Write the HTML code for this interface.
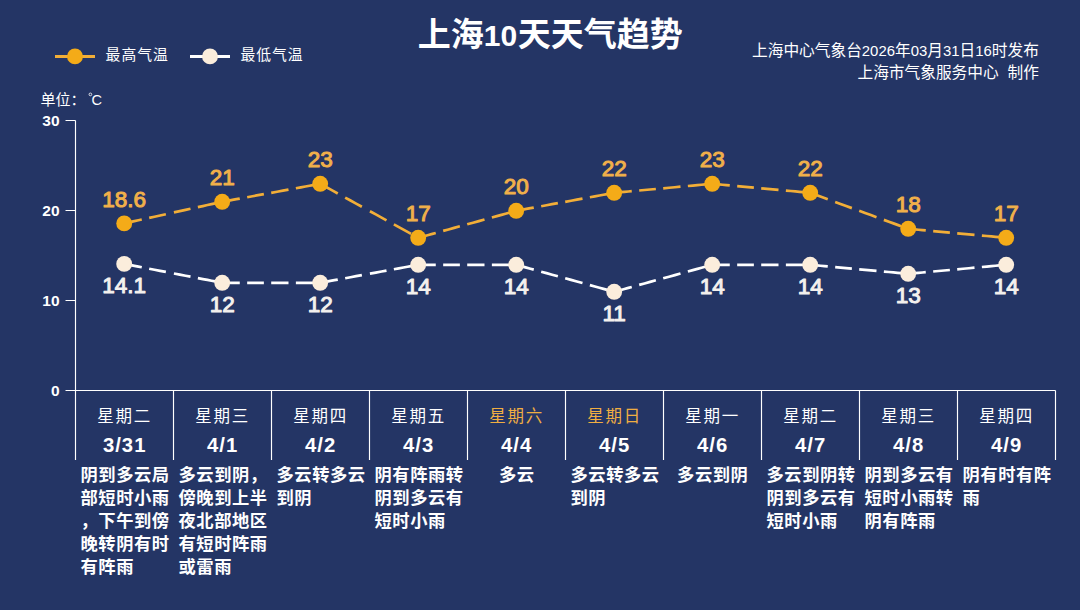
<!DOCTYPE html>
<html lang="zh-CN">
<head>
<meta charset="utf-8">
<title>上海10天天气趋势</title>
<style>
html,body{margin:0;padding:0;background:#243565;}
body{width:1080px;height:610px;overflow:hidden;position:relative;font-family:"Liberation Sans",sans-serif;}
#chart{position:absolute;left:0;top:0;width:1080px;height:610px;display:block;}
#chart text{font-family:"Liberation Sans","Noto Sans CJK SC",sans-serif;}
#labels{position:absolute;left:0;top:0;width:1080px;height:610px;overflow:hidden;}
#labels span{position:absolute;white-space:nowrap;overflow:hidden;line-height:1;color:transparent;font-family:"Liberation Sans",sans-serif;}
</style>
</head>
<body>
<svg id="chart" width="1080" height="610" viewBox="0 0 1080 610">
<rect width="1080" height="610" fill="#243565"/>
<text x="417.8" y="46" font-size="33" font-weight="bold" fill="#fff">上海</text>
<text x="517.8" y="46" font-size="33" font-weight="bold" fill="#fff">天天气趋势</text>
<text x="483.8" y="46" font-size="30" font-weight="bold" fill="#fff">10</text>
<path d="M55 56.4 H95" stroke="#F2AE38" stroke-width="3" fill="none"/>
<circle cx="75" cy="56.4" r="7.95" fill="#F4AB18"/>
<path d="M190 56.4 H230" stroke="#FFFFFF" stroke-width="3" fill="none"/>
<circle cx="210" cy="56.4" r="7.95" fill="#FBEDDC"/>
<text x="105.6" y="60.1" font-size="14.8" letter-spacing="1" fill="#fff">最高气温</text>
<text x="240.4" y="60.1" font-size="14.8" letter-spacing="1" fill="#fff">最低气温</text>
<text x="752.03" y="56.4" font-size="15.7" fill="#fff">上海中心气象台<tspan font-size="14.9">2026</tspan>年<tspan font-size="14.9">03</tspan>月<tspan font-size="14.9">31</tspan>日<tspan font-size="14.9">16</tspan>时发布</text>
<text x="857.51" y="77.7" font-size="15.7" fill="#fff">上海市气象服务中心</text>
<text x="1007.6" y="77.7" font-size="15.7" fill="#fff">制作</text>
<text x="40.5" y="105.2" font-size="15" fill="#fff">单位：</text>
<circle cx="90.4" cy="94.4" r="1.35" fill="none" stroke="#fff" stroke-width="0.8"/>
<text x="91.6" y="105.2" font-size="14.6" fill="#fff">C</text>
<path d="M75.5 120.5 V460 M65.5 120.5 H75.5 M65.5 210.5 H75.5 M65.5 300.5 H75.5 M65.5 390.5 H75.5 M75.5 390.5 H1055.5 M173.5 390.5 V460 M271.5 390.5 V460 M369.5 390.5 V460 M467.5 390.5 V460 M565.5 390.5 V460 M663.5 390.5 V460 M761.5 390.5 V460 M859.5 390.5 V460 M957.5 390.5 V460 M1055.5 390.5 V460" stroke="#fff" stroke-width="1.15" fill="none"/>
<text x="42.36" y="126" font-size="15.5" font-weight="bold" fill="#fff">30</text>
<text x="42.36" y="216" font-size="15.5" font-weight="bold" fill="#fff">20</text>
<text x="42.36" y="306" font-size="15.5" font-weight="bold" fill="#fff">10</text>
<text x="50.98" y="396" font-size="15.5" font-weight="bold" fill="#fff">0</text>
<path d="M124.2 263.9 L124.66 263.99 L125.98 264.24 L128.09 264.65 L130.92 265.2 L134.39 265.87 L138.42 266.64 L141.77 267.29 M149.17 268.72 L154.52 269.75 L160.11 270.83 L165.87 271.94 M173.93 273.49 L179.8 274.62 L185.57 275.74 L190.5 276.69 M197.87 278.11 L202.86 279.07 L207.44 279.95 L211.53 280.74 L215.08 281.43 M222.2 282.8 L222.66 282.8 L223.98 282.8 L226.09 282.8 L228.92 282.8 L232.39 282.8 L236.42 282.8 L239.77 282.8 M247.17 282.8 L252.52 282.8 L258.11 282.8 L263.87 282.8 M271.2 282.8 L277.07 282.8 L282.86 282.8 L288.5 282.8 M295.87 282.8 L300.86 282.8 L305.44 282.8 L309.53 282.8 L313.08 282.8 M320.2 282.8 L320.66 282.72 L321.98 282.47 L324.09 282.08 L326.92 281.57 L330.39 280.93 L334.42 280.19 L337.77 279.57 M345.17 278.21 L350.52 277.23 L356.11 276.2 L361.87 275.15 M369.93 273.67 L375.8 272.59 L381.57 271.53 L386.5 270.62 M393.87 269.27 L398.86 268.35 L403.44 267.51 L407.53 266.76 L411.08 266.11 M418.2 264.8 L418.66 264.8 L419.98 264.8 L422.09 264.8 L424.92 264.8 L428.39 264.8 L432.42 264.8 L435.77 264.8 M443.17 264.8 L448.52 264.8 L454.11 264.8 L459.87 264.8 M467.2 264.8 L473.07 264.8 L478.86 264.8 L484.5 264.8 M491.87 264.8 L496.86 264.8 L501.44 264.8 L505.53 264.8 L509.08 264.8 M516.2 264.8 L516.66 264.93 L517.98 265.29 L520.09 265.87 L522.92 266.65 L526.39 267.61 L530.42 268.72 L533.77 269.64 M541.17 271.68 L546.52 273.15 L552.11 274.69 L557.87 276.28 M565.2 278.3 L571.07 279.92 L576.86 281.51 L582.5 283.07 M589.87 285.1 L594.86 286.47 L599.44 287.73 L603.53 288.86 L607.08 289.84 M614.2 291.8 L614.66 291.67 L615.98 291.31 L618.09 290.73 L620.92 289.95 L624.39 288.99 L628.42 287.88 L631.77 286.96 M639.17 284.92 L644.52 283.45 L650.11 281.91 L655.87 280.32 M663.2 278.3 L669.07 276.68 L674.86 275.09 L680.5 273.53 M687.87 271.5 L692.86 270.13 L697.44 268.87 L701.53 267.74 L705.08 266.76 M712.2 264.8 L712.66 264.8 L713.98 264.8 L716.09 264.8 L718.92 264.8 L722.39 264.8 L726.42 264.8 L729.77 264.8 M737.17 264.8 L742.52 264.8 L748.11 264.8 L753.87 264.8 M761.2 264.8 L767.07 264.8 L772.86 264.8 L778.5 264.8 M785.87 264.8 L790.86 264.8 L795.44 264.8 L799.53 264.8 L803.08 264.8 M810.2 264.8 L810.66 264.84 L811.98 264.96 L814.09 265.16 L816.92 265.42 L820.39 265.74 L824.42 266.11 L827.77 266.41 M835.17 267.09 L840.52 267.58 L846.11 268.1 L851.87 268.63 M859.2 269.3 L865.07 269.84 L870.86 270.37 L876.5 270.89 M883.87 271.57 L888.86 272.02 L893.44 272.44 L897.53 272.82 L901.08 273.15 M908.2 273.8 L908.66 273.76 L909.98 273.64 L912.09 273.44 L914.92 273.18 L918.39 272.86 L922.42 272.49 L925.77 272.19 M933.17 271.51 L938.52 271.02 L944.11 270.5 L949.87 269.97 M957.2 269.3 L963.07 268.76 L968.86 268.23 L974.5 267.71 M981.87 267.03 L986.86 266.58 L991.44 266.16 L995.53 265.78 L999.08 265.45" stroke="#FFFFFF" stroke-width="2.7" fill="none"/>
<g fill="#FBEDDC"><circle cx="124.2" cy="263.9" r="7.95"/><circle cx="222.2" cy="282.8" r="7.95"/><circle cx="320.2" cy="282.8" r="7.95"/><circle cx="418.2" cy="264.8" r="7.95"/><circle cx="516.2" cy="264.8" r="7.95"/><circle cx="614.2" cy="291.8" r="7.95"/><circle cx="712.2" cy="264.8" r="7.95"/><circle cx="810.2" cy="264.8" r="7.95"/><circle cx="908.2" cy="273.8" r="7.95"/><circle cx="1006.2" cy="264.8" r="7.95"/></g>
<g fill="#F4F1EE" stroke="#F4F1EE" stroke-width="1" stroke-linejoin="round" font-size="22.5" text-anchor="middle">
<text x="124.2" y="292.8">14.1</text>
<text x="222.2" y="311.7">12</text>
<text x="320.2" y="311.7">12</text>
<text x="418.2" y="293.7">14</text>
<text x="516.2" y="293.7">14</text>
<text x="614.2" y="320.7">11</text>
<text x="712.2" y="293.7">14</text>
<text x="810.2" y="293.7">14</text>
<text x="908.2" y="302.7">13</text>
<text x="1006.2" y="293.7">14</text>
</g>
<path d="M124.2 223.4 L124.66 223.3 L125.98 223.01 L128.09 222.54 L130.92 221.92 L134.39 221.15 L138.42 220.26 L141.77 219.53 M149.17 217.9 L154.52 216.72 L160.11 215.48 L165.87 214.21 M173.93 212.44 L179.8 211.15 L185.57 209.87 L190.5 208.79 M197.87 207.16 L202.86 206.06 L207.44 205.05 L211.53 204.15 L215.08 203.37 M222.2 201.8 L222.66 201.72 L223.98 201.47 L226.09 201.08 L228.92 200.57 L232.39 199.93 L236.42 199.19 L239.77 198.57 M247.17 197.21 L252.52 196.23 L258.11 195.2 L263.87 194.15 M271.2 192.8 L277.07 191.72 L282.86 190.66 L288.5 189.62 M295.87 188.27 L300.86 187.35 L305.44 186.51 L309.53 185.76 L313.08 185.11 M320.2 183.8 L320.66 184.05 L321.98 184.78 L324.09 185.95 L326.92 187.5 L330.39 189.42 L334.42 191.64 L337.77 193.48 M345.17 197.56 L350.52 200.51 L356.11 203.59 L361.87 206.76 M369.93 211.2 L375.8 214.44 L381.57 217.62 L386.5 220.33 M393.87 224.4 L398.86 227.14 L403.44 229.66 L407.53 231.92 L411.08 233.87 M418.2 237.8 L418.66 237.67 L419.98 237.31 L422.09 236.73 L424.92 235.95 L428.39 234.99 L432.42 233.88 L435.77 232.96 M443.17 230.92 L448.52 229.45 L454.11 227.91 L459.87 226.32 M467.2 224.3 L473.07 222.68 L478.86 221.09 L484.5 219.53 M491.87 217.5 L496.86 216.13 L501.44 214.87 L505.53 213.74 L509.08 212.76 M516.2 210.8 L516.66 210.72 L517.98 210.47 L520.09 210.08 L522.92 209.57 L526.39 208.93 L530.42 208.19 L533.77 207.57 M541.17 206.21 L546.52 205.23 L552.11 204.2 L557.87 203.15 M565.2 201.8 L571.07 200.72 L576.86 199.66 L582.5 198.62 M589.87 197.27 L594.86 196.35 L599.44 195.51 L603.53 194.76 L607.08 194.11 M614.2 192.8 L614.66 192.76 L615.98 192.64 L618.09 192.44 L620.92 192.18 L624.39 191.86 L628.42 191.49 L631.77 191.19 M639.17 190.51 L644.52 190.02 L650.11 189.5 L655.87 188.97 M663.2 188.3 L669.07 187.76 L674.86 187.23 L680.5 186.71 M687.87 186.03 L692.86 185.58 L697.44 185.16 L701.53 184.78 L705.08 184.45 M712.2 183.8 L712.66 183.84 L713.98 183.96 L716.09 184.16 L718.92 184.42 L722.39 184.74 L726.42 185.11 L729.77 185.41 M737.17 186.09 L742.52 186.58 L748.11 187.1 L753.87 187.63 M761.2 188.3 L767.07 188.84 L772.86 189.37 L778.5 189.89 M785.87 190.57 L790.86 191.02 L795.44 191.44 L799.53 191.82 L803.08 192.15 M810.2 192.8 L810.66 192.97 L811.98 193.45 L814.09 194.23 L816.92 195.27 L820.39 196.54 L824.42 198.03 L827.77 199.26 M835.17 201.97 L840.52 203.94 L846.11 205.99 L851.87 208.11 M859.2 210.8 L865.07 212.96 L870.86 215.08 L876.5 217.16 M883.87 219.86 L888.86 221.69 L893.44 223.38 L897.53 224.88 L901.08 226.18 M908.2 228.8 L908.66 228.84 L909.98 228.96 L912.09 229.16 L914.92 229.42 L918.39 229.74 L922.42 230.11 L925.77 230.41 M933.17 231.09 L938.52 231.58 L944.11 232.1 L949.87 232.63 M957.2 233.3 L963.07 233.84 L968.86 234.37 L974.5 234.89 M981.87 235.57 L986.86 236.02 L991.44 236.44 L995.53 236.82 L999.08 237.15" stroke="#F2AE38" stroke-width="2.7" fill="none"/>
<g fill="#F4AB18"><circle cx="124.2" cy="223.4" r="7.95"/><circle cx="222.2" cy="201.8" r="7.95"/><circle cx="320.2" cy="183.8" r="7.95"/><circle cx="418.2" cy="237.8" r="7.95"/><circle cx="516.2" cy="210.8" r="7.95"/><circle cx="614.2" cy="192.8" r="7.95"/><circle cx="712.2" cy="183.8" r="7.95"/><circle cx="810.2" cy="192.8" r="7.95"/><circle cx="908.2" cy="228.8" r="7.95"/><circle cx="1006.2" cy="237.8" r="7.95"/></g>
<g fill="#F1B04A" stroke="#F1B04A" stroke-width="1" stroke-linejoin="round" font-size="22.5" text-anchor="middle">
<text x="124.2" y="206.9">18.6</text>
<text x="222.2" y="185.3">21</text>
<text x="320.2" y="167.3">23</text>
<text x="418.2" y="221.3">17</text>
<text x="516.2" y="194.3">20</text>
<text x="614.2" y="176.3">22</text>
<text x="712.2" y="167.3">23</text>
<text x="810.2" y="176.3">22</text>
<text x="908.2" y="212.3">18</text>
<text x="1006.2" y="221.3">17</text>
</g>
<g font-size="16.5" letter-spacing="1.7" fill="#fff">
<text x="97.25" y="421.6">星期二</text>
<text x="195.25" y="421.6">星期三</text>
<text x="293.25" y="421.6">星期四</text>
<text x="391.25" y="421.6">星期五</text>
<text x="489.25" y="421.6" fill="#F0AE42">星期六</text>
<text x="587.25" y="421.6" fill="#F0AE42">星期日</text>
<text x="685.25" y="421.6">星期一</text>
<text x="783.25" y="421.6">星期二</text>
<text x="881.25" y="421.6">星期三</text>
<text x="979.25" y="421.6">星期四</text>
</g>
<g font-size="20.3" font-weight="bold" fill="#fff" text-anchor="middle" letter-spacing="1">
<text x="124.7" y="452.2">3/31</text>
<text x="222.7" y="452.2">4/1</text>
<text x="320.7" y="452.2">4/2</text>
<text x="418.7" y="452.2">4/3</text>
<text x="516.7" y="452.2">4/4</text>
<text x="614.7" y="452.2">4/5</text>
<text x="712.7" y="452.2">4/6</text>
<text x="810.7" y="452.2">4/7</text>
<text x="908.7" y="452.2">4/8</text>
<text x="1006.7" y="452.2">4/9</text>
</g>
<g font-size="17.3" font-weight="bold" fill="#fff" letter-spacing="0.55">
<text><tspan x="80.5" y="480.8">阴到多云局</tspan><tspan x="80.5" y="503.8">部短时小雨</tspan><tspan x="80.5" y="526.8">，下午到傍</tspan><tspan x="80.5" y="549.8">晚转阴有时</tspan><tspan x="80.5" y="572.8">有阵雨</tspan></text>
<text><tspan x="178.5" y="480.8">多云到阴，</tspan><tspan x="178.5" y="503.8">傍晚到上半</tspan><tspan x="178.5" y="526.8">夜北部地区</tspan><tspan x="178.5" y="549.8">有短时阵雨</tspan><tspan x="178.5" y="572.8">或雷雨</tspan></text>
<text><tspan x="276.5" y="480.8">多云转多云</tspan><tspan x="276.5" y="503.8">到阴</tspan></text>
<text><tspan x="374.5" y="480.8">阴有阵雨转</tspan><tspan x="374.5" y="503.8">阴到多云有</tspan><tspan x="374.5" y="526.8">短时小雨</tspan></text>
<text x="498.93" y="480.8">多云</text>
<text><tspan x="570.5" y="480.8">多云转多云</tspan><tspan x="570.5" y="503.8">到阴</tspan></text>
<text x="677.08" y="480.8">多云到阴</text>
<text><tspan x="766.5" y="480.8">多云到阴转</tspan><tspan x="766.5" y="503.8">阴到多云有</tspan><tspan x="766.5" y="526.8">短时小雨</tspan></text>
<text><tspan x="864.5" y="480.8">阴到多云有</tspan><tspan x="864.5" y="503.8">短时小雨转</tspan><tspan x="864.5" y="526.8">阴有阵雨</tspan></text>
<text><tspan x="962.5" y="480.8">阴有时有阵</tspan><tspan x="962.5" y="503.8">雨</tspan></text>
</g>
</svg>
<div id="labels"><span style="left:417.8px;top:16.96px;font-size:33px;width:68px">上海</span><span style="left:517.8px;top:16.96px;font-size:33px;width:167px">天天气趋势</span><span style="left:483.8px;top:19px;font-size:30px;width:34px">10</span><span style="left:105.6px;top:47.08px;font-size:14.8px;width:64.2px">最高气温</span><span style="left:240.4px;top:47.08px;font-size:14.8px;width:64.2px">最低气温</span><span style="left:752.03px;top:42.58px;font-size:15.7px;width:288.97px">上海中心气象台2026年03月31日16时发布</span><span style="left:857.51px;top:63.88px;font-size:15.7px;width:183.49px">上海市气象服务中心 制作</span><span style="left:40.5px;top:92px;font-size:15px;width:47px">单位：</span><span style="left:88px;top:92px;font-size:14px;width:16px">℃</span><span style="left:42.36px;top:112.36px;font-size:15.5px;width:19.24px">30</span><span style="left:42.36px;top:202.36px;font-size:15.5px;width:19.24px">20</span><span style="left:42.36px;top:292.36px;font-size:15.5px;width:19.24px">10</span><span style="left:50.98px;top:382.36px;font-size:15.5px;width:10.62px">0</span><span style="left:101.51px;top:273.44px;font-size:22px;width:47.39px">14.1</span><span style="left:209.23px;top:292.34px;font-size:22px;width:27.94px">12</span><span style="left:307.23px;top:292.34px;font-size:22px;width:27.94px">12</span><span style="left:405.23px;top:274.34px;font-size:22px;width:27.94px">14</span><span style="left:503.23px;top:274.34px;font-size:22px;width:27.94px">14</span><span style="left:601.23px;top:301.34px;font-size:22px;width:27.94px">11</span><span style="left:699.23px;top:274.34px;font-size:22px;width:27.94px">14</span><span style="left:797.23px;top:274.34px;font-size:22px;width:27.94px">14</span><span style="left:895.23px;top:283.34px;font-size:22px;width:27.94px">13</span><span style="left:993.23px;top:274.34px;font-size:22px;width:27.94px">14</span><span style="left:101.51px;top:187.54px;font-size:22px;width:47.39px">18.6</span><span style="left:209.23px;top:165.94px;font-size:22px;width:27.94px">21</span><span style="left:307.23px;top:147.94px;font-size:22px;width:27.94px">23</span><span style="left:405.23px;top:201.94px;font-size:22px;width:27.94px">17</span><span style="left:503.23px;top:174.94px;font-size:22px;width:27.94px">20</span><span style="left:601.23px;top:156.94px;font-size:22px;width:27.94px">22</span><span style="left:699.23px;top:147.94px;font-size:22px;width:27.94px">23</span><span style="left:797.23px;top:156.94px;font-size:22px;width:27.94px">22</span><span style="left:895.23px;top:192.94px;font-size:22px;width:27.94px">18</span><span style="left:993.23px;top:201.94px;font-size:22px;width:27.94px">17</span><span style="left:97.25px;top:407.08px;font-size:16.5px;width:54.9px">星期二</span><span style="left:101.37px;top:434.34px;font-size:20.3px;width:47.07px">3/31</span><span style="left:80.5px;top:465.58px;font-size:17.3px;width:90.7px">阴到多云局</span><span style="left:80.5px;top:488.58px;font-size:17.3px;width:90.7px">部短时小雨</span><span style="left:80.5px;top:511.58px;font-size:17.3px;width:90.7px">，下午到傍</span><span style="left:80.5px;top:534.58px;font-size:17.3px;width:90.7px">晚转阴有时</span><span style="left:80.5px;top:557.58px;font-size:17.3px;width:55px">有阵雨</span><span style="left:195.25px;top:407.08px;font-size:16.5px;width:54.9px">星期三</span><span style="left:205.19px;top:434.34px;font-size:20.3px;width:35.43px">4/1</span><span style="left:178.5px;top:465.58px;font-size:17.3px;width:90.7px">多云到阴，</span><span style="left:178.5px;top:488.58px;font-size:17.3px;width:90.7px">傍晚到上半</span><span style="left:178.5px;top:511.58px;font-size:17.3px;width:90.7px">夜北部地区</span><span style="left:178.5px;top:534.58px;font-size:17.3px;width:90.7px">有短时阵雨</span><span style="left:178.5px;top:557.58px;font-size:17.3px;width:55px">或雷雨</span><span style="left:293.25px;top:407.08px;font-size:16.5px;width:54.9px">星期四</span><span style="left:303.19px;top:434.34px;font-size:20.3px;width:35.43px">4/2</span><span style="left:276.5px;top:465.58px;font-size:17.3px;width:90.7px">多云转多云</span><span style="left:276.5px;top:488.58px;font-size:17.3px;width:37.15px">到阴</span><span style="left:391.25px;top:407.08px;font-size:16.5px;width:54.9px">星期五</span><span style="left:401.19px;top:434.34px;font-size:20.3px;width:35.43px">4/3</span><span style="left:374.5px;top:465.58px;font-size:17.3px;width:90.7px">阴有阵雨转</span><span style="left:374.5px;top:488.58px;font-size:17.3px;width:90.7px">阴到多云有</span><span style="left:374.5px;top:511.58px;font-size:17.3px;width:72.85px">短时小雨</span><span style="left:489.25px;top:407.08px;font-size:16.5px;width:54.9px">星期六</span><span style="left:499.19px;top:434.34px;font-size:20.3px;width:35.43px">4/4</span><span style="left:498.93px;top:465.58px;font-size:17.3px;width:37.15px">多云</span><span style="left:587.25px;top:407.08px;font-size:16.5px;width:54.9px">星期日</span><span style="left:597.19px;top:434.34px;font-size:20.3px;width:35.43px">4/5</span><span style="left:570.5px;top:465.58px;font-size:17.3px;width:90.7px">多云转多云</span><span style="left:570.5px;top:488.58px;font-size:17.3px;width:37.15px">到阴</span><span style="left:685.25px;top:407.08px;font-size:16.5px;width:54.9px">星期一</span><span style="left:695.19px;top:434.34px;font-size:20.3px;width:35.43px">4/6</span><span style="left:677.08px;top:465.58px;font-size:17.3px;width:72.85px">多云到阴</span><span style="left:783.25px;top:407.08px;font-size:16.5px;width:54.9px">星期二</span><span style="left:793.19px;top:434.34px;font-size:20.3px;width:35.43px">4/7</span><span style="left:766.5px;top:465.58px;font-size:17.3px;width:90.7px">多云到阴转</span><span style="left:766.5px;top:488.58px;font-size:17.3px;width:90.7px">阴到多云有</span><span style="left:766.5px;top:511.58px;font-size:17.3px;width:72.85px">短时小雨</span><span style="left:881.25px;top:407.08px;font-size:16.5px;width:54.9px">星期三</span><span style="left:891.19px;top:434.34px;font-size:20.3px;width:35.43px">4/8</span><span style="left:864.5px;top:465.58px;font-size:17.3px;width:90.7px">阴到多云有</span><span style="left:864.5px;top:488.58px;font-size:17.3px;width:90.7px">短时小雨转</span><span style="left:864.5px;top:511.58px;font-size:17.3px;width:72.85px">阴有阵雨</span><span style="left:979.25px;top:407.08px;font-size:16.5px;width:54.9px">星期四</span><span style="left:989.19px;top:434.34px;font-size:20.3px;width:35.43px">4/9</span><span style="left:962.5px;top:465.58px;font-size:17.3px;width:90.7px">阴有时有阵</span><span style="left:962.5px;top:488.58px;font-size:17.3px;width:19.3px">雨</span></div>
</body>
</html>
